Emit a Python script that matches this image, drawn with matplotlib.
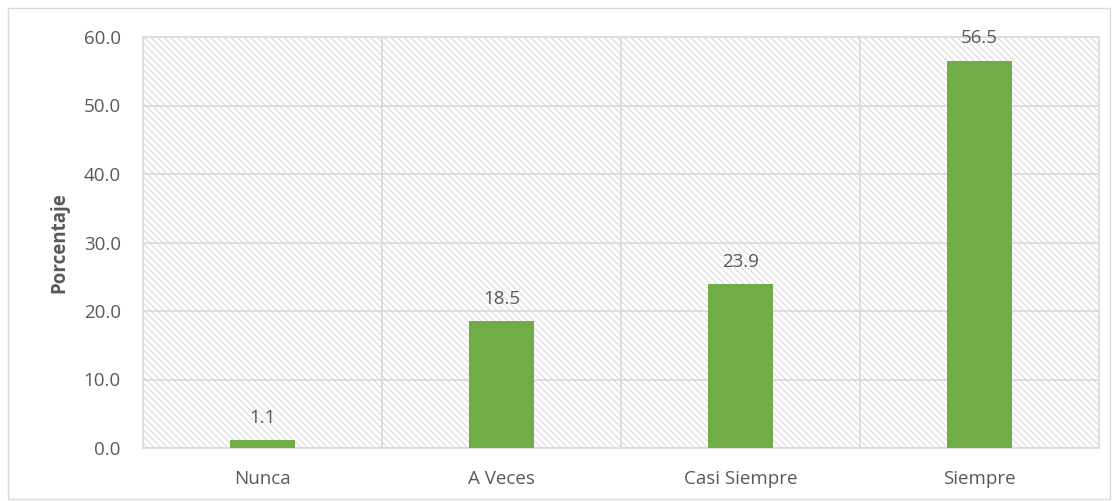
import matplotlib.pyplot as plt
import matplotlib as mpl
from matplotlib.patches import Rectangle

categories = ["Nunca", "A Veces", "Casi Siempre", "Siempre"]
values = [1.1, 18.5, 23.9, 56.5]
yticks = [0, 10, 20, 30, 40, 50, 60]

plt.rcParams['font.family'] = ['Open Sans', 'DejaVu Sans']
mpl.rcParams['hatch.color'] = '#d9d9d9'
mpl.rcParams['hatch.linewidth'] = 0.8
txt = '#595959'
fs = 13.5

fig = plt.figure(figsize=(11.18, 5.01), dpi=100)
fig.patches.append(Rectangle((0.007, 0.004), 0.986, 0.98, transform=fig.transFigure,
                             fill=False, edgecolor='#d9d9d9', linewidth=1))
ax = fig.add_axes([143/1118, 1 - 448/501, (1099-143)/1118, (448-37)/501])

# hatched background
ax.add_patch(Rectangle((0, 0), 1, 1, transform=ax.transAxes, facecolor='white',
                       edgecolor='#d9d9d9', hatch='\\\\\\\\\\', linewidth=0, zorder=0))

x = range(len(categories))
bars = ax.bar(x, values, width=0.27, color='#70ad47', zorder=3)
for i, v in enumerate(values):
    ax.text(i, v + 2.0, f"{v:.1f}", ha='center', va='bottom', fontsize=fs, color=txt, zorder=4)

ax.set_xlim(-0.5, 3.5)
ax.set_ylim(0, 60)
ax.set_yticks(yticks)
ax.set_yticklabels([f"{t:.1f}" for t in yticks], fontsize=fs, color=txt)
ax.set_xticks(list(x))
ax.set_xticklabels(categories, fontsize=fs, color=txt)
ax.set_xticks([0.5, 1.5, 2.5], minor=True)
ax.tick_params(which='both', length=0)
ax.tick_params(axis='y', pad=16)
ax.tick_params(axis='x', pad=16)
ax.grid(True, axis='y', color='#d9d9d9', linewidth=1.2, zorder=1)
ax.grid(True, axis='x', which='minor', color='#d9d9d9', linewidth=1.2, zorder=1)
for s in ax.spines.values():
    s.set_color('#d9d9d9')
    s.set_linewidth(1.2)
ax.set_ylabel("Porcentaje", fontsize=fs, fontweight='bold', color=txt, labelpad=10)

fig.savefig('out.png', dpi=100)
